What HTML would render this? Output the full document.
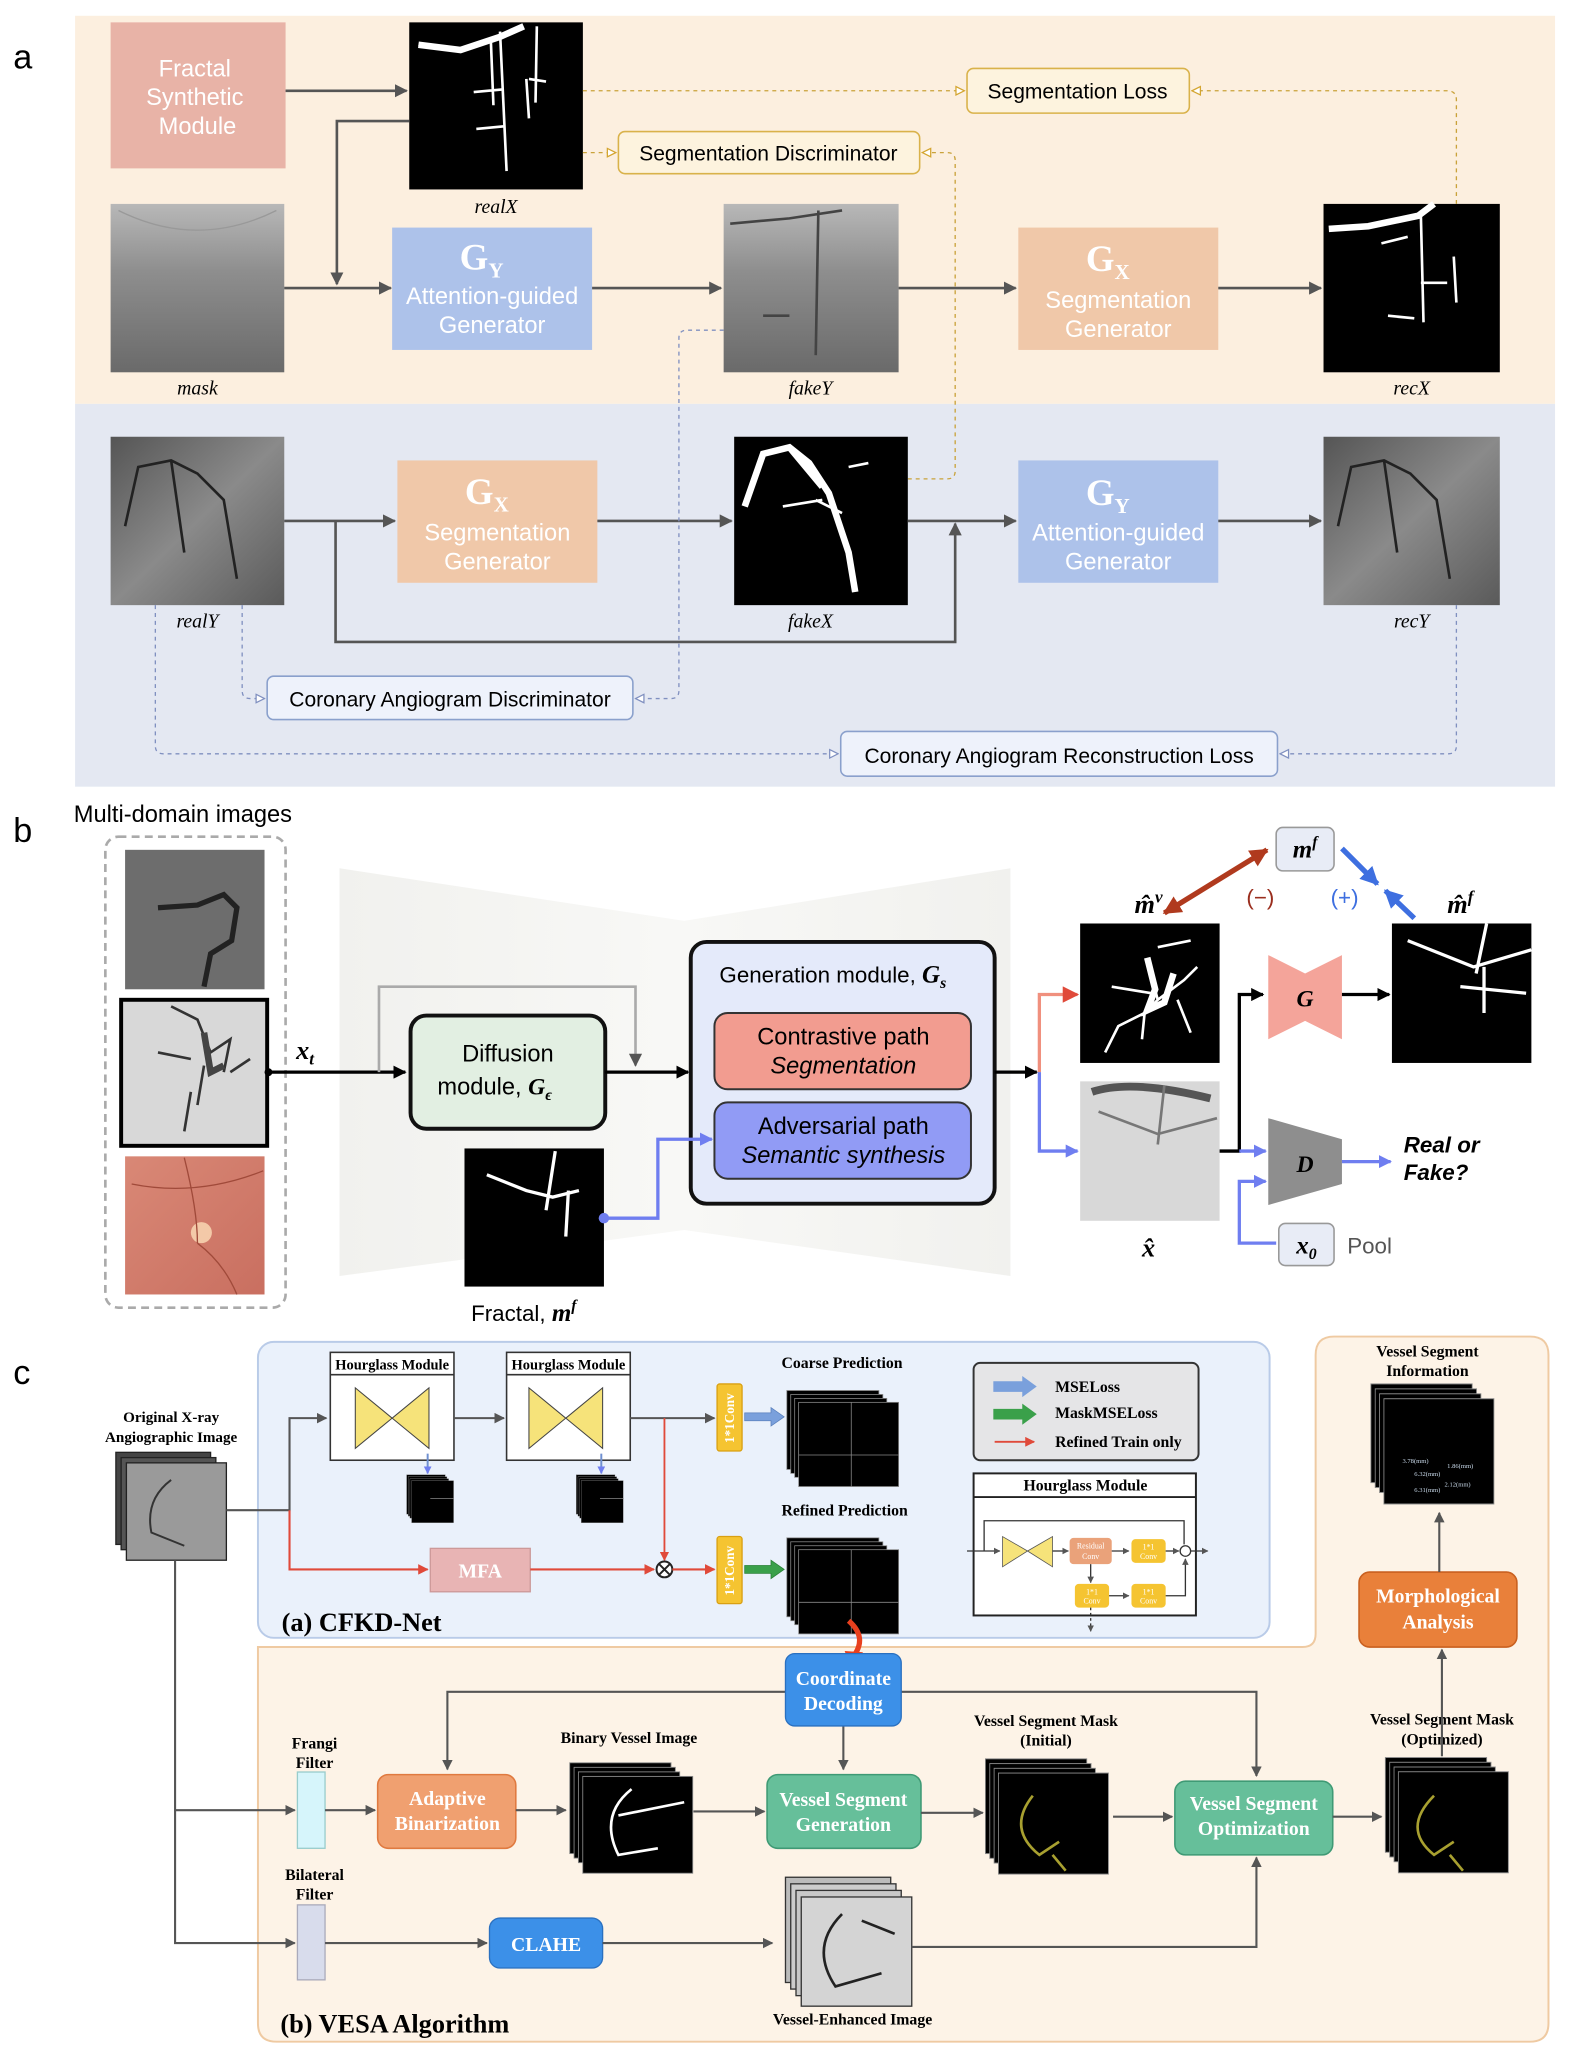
<!DOCTYPE html>
<html><head><meta charset="utf-8"><style>html,body{margin:0;padding:0;background:#fff}svg{display:block}</style></head>
<body>
<svg width="1592" height="2068" viewBox="0 0 1210 1572" xmlns="http://www.w3.org/2000/svg" font-family="Liberation Sans, sans-serif">
<defs>
<marker id="ag" viewBox="0 0 10 10" refX="9" refY="5" markerWidth="5" markerHeight="5" orient="auto"><path d="M0,0L10,5L0,10z" fill="#555"/></marker>
<marker id="ak" viewBox="0 0 10 10" refX="9" refY="5" markerWidth="4" markerHeight="4" orient="auto"><path d="M0,0L10,5L0,10z" fill="#000"/></marker>
<marker id="ar" viewBox="0 0 10 10" refX="9" refY="5" markerWidth="5" markerHeight="5" orient="auto"><path d="M0,0L10,5L0,10z" fill="#e04a3a"/></marker>
<marker id="ab" viewBox="0 0 10 10" refX="9" refY="5" markerWidth="4" markerHeight="4" orient="auto"><path d="M0,0L10,5L0,10z" fill="#6f7ef0"/></marker>
<marker id="abl" viewBox="0 0 10 10" refX="9" refY="5" markerWidth="3.5" markerHeight="3.5" orient="auto"><path d="M0,0L10,5L0,10z" fill="#3e6fe0"/></marker>
<marker id="adr" viewBox="0 0 10 10" refX="9" refY="5" markerWidth="3.5" markerHeight="3.5" orient="auto-start-reverse"><path d="M0,0L10,5L0,10z" fill="#b03a1e"/></marker>
<marker id="hy" viewBox="0 0 10 10" refX="9" refY="5" markerWidth="8" markerHeight="8" orient="auto"><path d="M1,1L9,5L1,9z" fill="#fff" stroke="#d4a530" stroke-width="1.2"/></marker>
<marker id="hb" viewBox="0 0 10 10" refX="9" refY="5" markerWidth="8" markerHeight="8" orient="auto"><path d="M1,1L9,5L1,9z" fill="#fff" stroke="#8090c0" stroke-width="1.2"/></marker>
<linearGradient id="xr" x1="0" y1="0" x2="0" y2="1"><stop offset="0" stop-color="#b8b8b8"/><stop offset=".4" stop-color="#8e8e8e"/><stop offset="1" stop-color="#6a6a6a"/></linearGradient>
<linearGradient id="xr2" x1="0" y1="0" x2="1" y2="1"><stop offset="0" stop-color="#555"/><stop offset=".5" stop-color="#8a8a8a"/><stop offset="1" stop-color="#5a5a5a"/></linearGradient>
<linearGradient id="ret" x1="0" y1="0" x2="1" y2="1"><stop offset="0" stop-color="#d98876"/><stop offset="1" stop-color="#c96f60"/></linearGradient>
<linearGradient id="bgsh" x1="0" y1="0" x2="1" y2="0"><stop offset="0" stop-color="#f1f1ee"/><stop offset=".5" stop-color="#f8f8f6"/><stop offset="1" stop-color="#f1f1ee"/></linearGradient>
<g id="stk"><rect x="0" y="0" width="70" height="60" fill="#000" stroke="#888" stroke-width=".6"/><rect x="3" y="3" width="70" height="60" fill="#000" stroke="#888" stroke-width=".6"/><rect x="6" y="6" width="70" height="60" fill="#000" stroke="#888" stroke-width=".6"/><rect x="9" y="9" width="76" height="64" fill="#000" stroke="#888" stroke-width=".6"/></g>
</defs>

<!-- ========== PANEL A ========== -->
<text x="10" y="52" font-size="26">a</text>
<rect x="57" y="12" width="1125" height="295" fill="#fcefdf"/>
<rect x="57" y="307" width="1125" height="291" fill="#e4e8f2"/>

<rect x="84" y="17" width="133" height="111" fill="#e8b3a7"/>
<text font-size="18" fill="#fff" text-anchor="middle"><tspan x="148" y="58">Fractal</tspan><tspan x="148" y="80">Synthetic</tspan><tspan x="150" y="102">Module</tspan></text>

<rect x="311" y="17" width="132" height="127" fill="#000"/>
<path d="M318,34L350,38L372,30L392,24M373,30L375,80M380,24L385,130M360,70L382,68M362,98L383,96M400,60L402,90M402,60L415,62M408,20L407,78" stroke="#fff" stroke-width="2" fill="none"/>
<path d="M318,34L350,38L380,28L398,20" stroke="#fff" stroke-width="5" fill="none"/>
<text x="377" y="162" font-family="Liberation Serif, serif" font-style="italic" font-size="15" text-anchor="middle">realX</text>

<rect x="84" y="155" width="132" height="128" fill="url(#xr)"/>
<path d="M90,160Q150,190 210,160" stroke="#999" fill="none"/>
<text x="150" y="300" font-family="Liberation Serif, serif" font-style="italic" font-size="15" text-anchor="middle">mask</text>

<line x1="217" y1="69" x2="309" y2="69" stroke="#555" stroke-width="2" marker-end="url(#ag)"/>
<polyline points="311,92 256,92 256,216" fill="none" stroke="#555" stroke-width="2" marker-end="url(#ag)"/>
<line x1="216" y1="219" x2="297" y2="219" stroke="#555" stroke-width="2" marker-end="url(#ag)"/>

<rect x="298" y="173" width="152" height="93" fill="#adc2ea"/>
<text x="366" y="205" font-family="Liberation Serif, serif" font-weight="bold" font-size="28" fill="#fff" text-anchor="middle">G<tspan font-size="16" dy="6">Y</tspan></text>
<text font-size="18" fill="#fff" text-anchor="middle"><tspan x="374" y="231">Attention-guided</tspan><tspan x="374" y="253">Generator</tspan></text>

<line x1="450" y1="219" x2="548" y2="219" stroke="#555" stroke-width="2" marker-end="url(#ag)"/>
<rect x="550" y="155" width="133" height="128" fill="url(#xr)"/>
<path d="M555,170L600,166L640,160M622,160L620,270M580,240L600,240" stroke="#444" stroke-width="2" fill="none"/>
<text x="616" y="300" font-family="Liberation Serif, serif" font-style="italic" font-size="15" text-anchor="middle">fakeY</text>
<line x1="683" y1="219" x2="772" y2="219" stroke="#555" stroke-width="2" marker-end="url(#ag)"/>

<rect x="774" y="173" width="152" height="93" fill="#f0c8a9"/>
<text x="842" y="206" font-family="Liberation Serif, serif" font-weight="bold" font-size="28" fill="#fff" text-anchor="middle">G<tspan font-size="16" dy="6">X</tspan></text>
<text font-size="18" fill="#fff" text-anchor="middle"><tspan x="850" y="234">Segmentation</tspan><tspan x="850" y="256">Generator</tspan></text>
<line x1="926" y1="219" x2="1004" y2="219" stroke="#555" stroke-width="2" marker-end="url(#ag)"/>

<rect x="1006" y="155" width="134" height="128" fill="#000"/>
<path d="M1010,174L1040,172L1078,164L1090,155" stroke="#fff" stroke-width="5" fill="none"/>
<path d="M1080,164L1082,245M1050,185L1070,180M1080,215L1100,215M1055,240L1075,242M1105,195L1107,230" stroke="#fff" stroke-width="2" fill="none"/>
<text x="1073" y="300" font-family="Liberation Serif, serif" font-style="italic" font-size="15" text-anchor="middle">recX</text>

<!-- dashed losses -->
<rect x="735" y="52" width="169" height="34" rx="5" fill="#fdf3de" stroke="#d9b24a" stroke-width="1.2"/>
<text x="819" y="75" font-size="16" text-anchor="middle">Segmentation Loss</text>
<line x1="443" y1="69" x2="733" y2="69" stroke="#c9a23a" stroke-dasharray="3,3" marker-end="url(#hy)"/>
<path d="M1107,155L1107,76Q1107,69 1100,69L906,69" fill="none" stroke="#c9a23a" stroke-dasharray="3,3" marker-end="url(#hy)"/>
<rect x="470" y="100" width="229" height="32" rx="5" fill="#fdf3de" stroke="#d9b24a" stroke-width="1.2"/>
<text x="584" y="122" font-size="16" text-anchor="middle">Segmentation Discriminator</text>
<line x1="443" y1="116" x2="468" y2="116" stroke="#c9a23a" stroke-dasharray="3,3" marker-end="url(#hy)"/>
<path d="M690,364L720,364Q726,364 726,358L726,122Q726,116 720,116L701,116" fill="none" stroke="#c9a23a" stroke-dasharray="3,3" marker-end="url(#hy)"/>

<!-- bottom row a -->
<rect x="84" y="332" width="132" height="128" fill="url(#xr2)"/>
<path d="M95,400L105,355L130,350L150,360L170,380L180,440M130,350L140,420" stroke="#222" stroke-width="2" fill="none"/>
<text x="150" y="477" font-family="Liberation Serif, serif" font-style="italic" font-size="15" text-anchor="middle">realY</text>
<line x1="216" y1="396" x2="300" y2="396" stroke="#555" stroke-width="2" marker-end="url(#ag)"/>
<rect x="302" y="350" width="152" height="93" fill="#f0c8a9"/>
<text x="370" y="383" font-family="Liberation Serif, serif" font-weight="bold" font-size="28" fill="#fff" text-anchor="middle">G<tspan font-size="16" dy="6">X</tspan></text>
<text font-size="18" fill="#fff" text-anchor="middle"><tspan x="378" y="411">Segmentation</tspan><tspan x="378" y="433">Generator</tspan></text>
<line x1="454" y1="396" x2="556" y2="396" stroke="#555" stroke-width="2" marker-end="url(#ag)"/>
<rect x="558" y="332" width="132" height="128" fill="#000"/>
<path d="M566,385L580,345L600,340L615,352L630,375L645,420L650,450M600,340L625,370" stroke="#fff" stroke-width="5" fill="none"/>
<path d="M595,385L625,380M620,380L640,390M645,355L660,352" stroke="#fff" stroke-width="2" fill="none"/>
<text x="616" y="477" font-family="Liberation Serif, serif" font-style="italic" font-size="15" text-anchor="middle">fakeX</text>
<line x1="690" y1="396" x2="772" y2="396" stroke="#555" stroke-width="2" marker-end="url(#ag)"/>
<polyline points="255,396 255,488 726,488 726,398" fill="none" stroke="#555" stroke-width="2" marker-end="url(#ag)"/>
<rect x="774" y="350" width="152" height="93" fill="#adc2ea"/>
<text x="842" y="384" font-family="Liberation Serif, serif" font-weight="bold" font-size="28" fill="#fff" text-anchor="middle">G<tspan font-size="16" dy="6">Y</tspan></text>
<text font-size="18" fill="#fff" text-anchor="middle"><tspan x="850" y="411">Attention-guided</tspan><tspan x="850" y="433">Generator</tspan></text>
<line x1="926" y1="396" x2="1004" y2="396" stroke="#555" stroke-width="2" marker-end="url(#ag)"/>
<rect x="1006" y="332" width="134" height="128" fill="url(#xr2)"/>
<path d="M1017,400L1027,355L1052,350L1072,360L1092,380L1102,440M1052,350L1062,420" stroke="#222" stroke-width="2" fill="none"/>
<text x="1073" y="477" font-family="Liberation Serif, serif" font-style="italic" font-size="15" text-anchor="middle">recY</text>

<rect x="203" y="514" width="278" height="33" rx="5" fill="#eef2fb" stroke="#8aa0cc" stroke-width="1.2"/>
<text x="342" y="537" font-size="16" text-anchor="middle">Coronary Angiogram Discriminator</text>
<path d="M184,460L184,525Q184,531 190,531L201,531" fill="none" stroke="#8090c0" stroke-dasharray="3,3" marker-end="url(#hb)"/>
<path d="M550,251L522,251Q516,251 516,257L516,525Q516,531 510,531L483,531" fill="none" stroke="#8090c0" stroke-dasharray="3,3" marker-end="url(#hb)"/>
<rect x="639" y="556" width="332" height="34" rx="5" fill="#eef2fb" stroke="#8aa0cc" stroke-width="1.2"/>
<text x="805" y="580" font-size="16" text-anchor="middle">Coronary Angiogram Reconstruction Loss</text>
<path d="M118,460L118,567Q118,573 124,573L637,573" fill="none" stroke="#8090c0" stroke-dasharray="3,3" marker-end="url(#hb)"/>
<path d="M1107,460L1107,567Q1107,573 1101,573L973,573" fill="none" stroke="#8090c0" stroke-dasharray="3,3" marker-end="url(#hb)"/>

<!-- ========== PANEL B ========== -->
<text x="10" y="640" font-size="26">b</text>
<text x="56" y="625" font-size="18">Multi-domain images</text>
<rect x="80" y="636" width="137" height="358" rx="10" fill="none" stroke="#aaa" stroke-width="2" stroke-dasharray="6,4"/>
<rect x="95" y="646" width="106" height="106" fill="#6d6d6d"/>
<path d="M120,690L150,688L170,680L180,690L176,715L160,725L155,750" stroke="#222" stroke-width="4" fill="none"/>
<rect x="92" y="760" width="111" height="111" fill="#d8d8d8" stroke="#000" stroke-width="3"/>
<path d="M130,765L150,775L160,800L175,790L170,815M155,810L150,840M120,800L145,805M175,815L190,805M145,830L140,860" stroke="#333" stroke-width="2" fill="none"/>
<path d="M155,785L160,815L170,810" stroke="#444" stroke-width="5" fill="none"/>
<rect x="95" y="879" width="106" height="105" fill="url(#ret)"/>
<circle cx="153" cy="937" r="8" fill="#f3c9a8"/>
<path d="M100,900Q150,910 200,890M150,945Q170,960 180,984M140,880Q150,920 150,945" stroke="#a04a3a" fill="none"/>

<polygon points="258,660 520,700 768,660 768,970 520,935 258,970" fill="url(#bgsh)"/>
<line x1="203" y1="815" x2="308" y2="815" stroke="#000" stroke-width="2.5" marker-end="url(#ak)"/>
<circle cx="204" cy="815" r="3" fill="#000"/>
<text x="225" y="805" font-family="Liberation Serif, serif" font-style="italic" font-weight="bold" font-size="20">x<tspan font-size="13" dy="4">t</tspan></text>
<polyline points="288,815 288,750 483,750 483,810" fill="none" stroke="#aaa" stroke-width="2" marker-end="url(#ag)"/>
<rect x="312" y="772" width="148" height="86" rx="12" fill="#e2efe2" stroke="#111" stroke-width="3"/>
<text font-size="18" text-anchor="middle"><tspan x="386" y="807">Diffusion</tspan><tspan x="376" y="832">module, </tspan><tspan font-family="Liberation Serif, serif" font-style="italic" font-weight="bold">G</tspan><tspan font-family="Liberation Serif, serif" font-style="italic" font-weight="bold" font-size="12" dy="4">ϵ</tspan></text>
<line x1="460" y1="815" x2="523" y2="815" stroke="#000" stroke-width="2.5" marker-end="url(#ak)"/>

<rect x="525" y="716" width="231" height="199" rx="12" fill="#e4eafa" stroke="#111" stroke-width="3"/>
<text x="633" y="747" font-size="17" text-anchor="middle">Generation module, <tspan font-family="Liberation Serif, serif" font-style="italic" font-weight="bold" font-size="19">G</tspan><tspan font-family="Liberation Serif, serif" font-style="italic" font-weight="bold" font-size="12" dy="4">s</tspan></text>
<rect x="543" y="770" width="195" height="58" rx="10" fill="#f29c90" stroke="#333" stroke-width="1.5"/>
<text font-size="18" text-anchor="middle"><tspan x="641" y="794">Contrastive path</tspan><tspan x="641" y="816" font-style="italic">Segmentation</tspan></text>
<rect x="543" y="838" width="195" height="58" rx="10" fill="#919bf5" stroke="#333" stroke-width="1.5"/>
<text font-size="18" text-anchor="middle"><tspan x="641" y="862">Adversarial path</tspan><tspan x="641" y="884" font-style="italic">Semantic synthesis</tspan></text>

<rect x="353" y="873" width="106" height="105" fill="#000"/>
<path d="M370,893L400,905L420,910L440,905M422,875L415,920M432,905L430,940" stroke="#fff" stroke-width="2.5" fill="none"/>
<text x="358" y="1004" font-size="17">Fractal, <tspan font-family="Liberation Serif, serif" font-style="italic" font-weight="bold" font-size="19">m</tspan><tspan font-family="Liberation Serif, serif" font-style="italic" font-weight="bold" font-size="12" dy="-8">f</tspan></text>
<circle cx="459" cy="926" r="4" fill="#6f7ef0"/>
<polyline points="459,926 500,926 500,866 541,866" fill="none" stroke="#6f7ef0" stroke-width="2.5" marker-end="url(#ab)"/>

<polyline points="756,815 788,815" fill="none" stroke="#000" stroke-width="2.5" marker-end="url(#ak)"/>
<polyline points="790,815 790,756 819,756" fill="none" stroke="#f0907e" stroke-width="2.5" marker-end="url(#ar)"/>
<polyline points="790,815 790,875 819,875" fill="none" stroke="#6f7ef0" stroke-width="2.5" marker-end="url(#ab)"/>

<rect x="821" y="702" width="106" height="106" fill="#000"/>
<path d="M872,730L880,760L870,770L868,790M880,760L900,745L910,735M870,770L850,780L840,800M880,720L905,715M845,750L875,755M895,760L905,785" stroke="#fff" stroke-width="2" fill="none"/>
<path d="M872,728L878,752L872,768L885,762L892,740" stroke="#fff" stroke-width="5" fill="none"/>
<text x="873" y="694" font-family="Liberation Serif, serif" font-style="italic" font-weight="bold" font-size="20" text-anchor="middle">m̂<tspan font-size="13" dy="-8">v</tspan></text>
<rect x="821" y="822" width="106" height="106" fill="#d8d8d8"/>
<path d="M830,830Q860,820 920,835" stroke="#555" stroke-width="6" fill="none"/>
<path d="M835,845L880,862L925,850M885,825L880,870" stroke="#777" stroke-width="2" fill="none"/>
<text x="873" y="955" font-family="Liberation Serif, serif" font-style="italic" font-weight="bold" font-size="20" text-anchor="middle">x̂</text>

<rect x="970" y="629" width="44" height="33" rx="5" fill="#e8ecf6" stroke="#999" stroke-width="1.2"/>
<text x="992" y="652" font-family="Liberation Serif, serif" font-style="italic" font-weight="bold" font-size="19" text-anchor="middle">m<tspan font-size="12" dy="-8">f</tspan></text>
<line x1="885" y1="694" x2="963" y2="646" stroke="#b03a1e" stroke-width="4" marker-start="url(#adr)" marker-end="url(#adr)"/>
<text x="958" y="688" font-size="17" fill="#9a2e1e" text-anchor="middle">(−)</text>
<line x1="1020" y1="645" x2="1047" y2="672" stroke="#3e6fe0" stroke-width="4" marker-end="url(#abl)"/>
<line x1="1075" y1="698" x2="1053" y2="677" stroke="#3e6fe0" stroke-width="4" marker-end="url(#abl)"/>
<text x="1022" y="688" font-size="17" fill="#3e6fe0" text-anchor="middle">(+)</text>
<rect x="1058" y="702" width="106" height="106" fill="#000"/>
<path d="M1070,715L1100,727L1120,735L1164,722M1130,702L1122,740M1128,735L1128,770M1110,750L1160,755" stroke="#fff" stroke-width="2.5" fill="none"/>
<text x="1110" y="694" font-family="Liberation Serif, serif" font-style="italic" font-weight="bold" font-size="20" text-anchor="middle">m̂<tspan font-size="13" dy="-8">f</tspan></text>

<polyline points="927,875 942,875 942,756 960,756" fill="none" stroke="#000" stroke-width="2.5" marker-end="url(#ak)"/>
<polygon points="964,726 992,740 1020,726 1020,790 992,776 964,790" fill="#f4a49a"/>
<text x="992" y="765" font-family="Liberation Serif, serif" font-style="italic" font-weight="bold" font-size="18" text-anchor="middle">G</text>
<line x1="1020" y1="756" x2="1056" y2="756" stroke="#000" stroke-width="2.5" marker-end="url(#ak)"/>
<line x1="942" y1="875" x2="962" y2="875" stroke="#6f7ef0" stroke-width="2.5" marker-end="url(#ab)"/>
<polygon points="964,850 1020,866 1020,900 964,916" fill="#8e8e8e"/>
<text x="992" y="891" font-family="Liberation Serif, serif" font-style="italic" font-weight="bold" font-size="18" text-anchor="middle">D</text>
<line x1="1020" y1="883" x2="1057" y2="883" stroke="#6f7ef0" stroke-width="2.5" marker-end="url(#ab)"/>
<text font-size="17" font-style="italic" font-weight="bold"><tspan x="1067" y="876">Real or</tspan><tspan x="1067" y="897">Fake?</tspan></text>
<polyline points="970,945 942,945 942,898 962,898" fill="none" stroke="#6f7ef0" stroke-width="2.5" marker-end="url(#ab)"/>
<rect x="972" y="930" width="42" height="32" rx="5" fill="#e8ecf6" stroke="#999" stroke-width="1.2"/>
<text x="993" y="953" font-family="Liberation Serif, serif" font-style="italic" font-weight="bold" font-size="19" text-anchor="middle">x<tspan font-size="12" dy="4">0</tspan></text>
<text x="1024" y="953" font-size="17" fill="#555">Pool</text>

<!-- ========== PANEL C ========== -->
<text x="10" y="1052" font-size="26">c</text>
<path d="M196,1252L990,1252Q1000,1252 1000,1242L1000,1030Q1000,1016 1014,1016L1163,1016Q1177,1016 1177,1030L1177,1538Q1177,1552 1163,1552L210,1552Q196,1552 196,1538Z" fill="#fdf3e7" stroke="#efcaa2" stroke-width="1.5"/>
<rect x="196" y="1020" width="769" height="225" rx="12" fill="#eaf1fb" stroke="#b9cbe8" stroke-width="1.5"/>

<text font-family="Liberation Serif, serif" font-weight="bold" font-size="11.5" text-anchor="middle"><tspan x="130" y="1081">Original X-ray</tspan><tspan x="130" y="1096">Angiographic Image</tspan></text>
<rect x="88" y="1104" width="72" height="70" fill="#444" stroke="#222"/>
<rect x="92" y="1108" width="72" height="70" fill="#555" stroke="#222"/>
<rect x="96" y="1112" width="76" height="74" fill="#9a9a9a" stroke="#222"/>
<path d="M130,1125Q110,1140 115,1165L140,1175" stroke="#333" fill="none" stroke-width="1.5"/>
<polyline points="172,1148 220,1148 220,1078 248,1078" fill="none" stroke="#555" stroke-width="1.6" marker-end="url(#ag)"/>
<polyline points="220,1148 220,1193 325,1193" fill="none" stroke="#e04a3a" stroke-width="1.6" marker-end="url(#ar)"/>
<polyline points="133,1186 133,1376 224,1376" fill="none" stroke="#555" stroke-width="1.6" marker-end="url(#ag)"/>
<polyline points="133,1376 133,1477 224,1477" fill="none" stroke="#555" stroke-width="1.6" marker-end="url(#ag)"/>

<!-- hourglass modules -->
<g font-family="Liberation Serif, serif" font-weight="bold" font-size="11" text-anchor="middle">
<rect x="251" y="1028" width="94" height="82" fill="#fff" stroke="#333" stroke-width="1.2"/>
<line x1="251" y1="1045" x2="345" y2="1045" stroke="#333" stroke-width="1.2"/>
<text x="298" y="1041">Hourglass Module</text>
<polygon points="270,1055 298,1078 326,1055 326,1101 298,1078 270,1101" fill="#f6e37a" stroke="#444" stroke-width=".8"/>
<rect x="385" y="1028" width="94" height="82" fill="#fff" stroke="#333" stroke-width="1.2"/>
<line x1="385" y1="1045" x2="479" y2="1045" stroke="#333" stroke-width="1.2"/>
<text x="432" y="1041">Hourglass Module</text>
<polygon points="402,1055 430,1078 458,1055 458,1101 430,1078 402,1101" fill="#f6e37a" stroke="#444" stroke-width=".8"/>
</g>
<line x1="345" y1="1078" x2="383" y2="1078" stroke="#555" stroke-width="1.6" marker-end="url(#ag)"/>
<line x1="479" y1="1078" x2="543" y2="1078" stroke="#555" stroke-width="1.6" marker-end="url(#ag)"/>
<line x1="325" y1="1105" x2="325" y2="1120" stroke="#6f90d0" stroke-width="1.5" marker-end="url(#ab)"/>
<line x1="457" y1="1105" x2="457" y2="1120" stroke="#6f90d0" stroke-width="1.5" marker-end="url(#ab)"/>
<g transform="translate(309,1121) scale(.42,.5)"><use href="#stk"/></g>
<g transform="translate(438,1121) scale(.42,.5)"><use href="#stk"/></g>
<line x1="327" y1="1139" x2="345" y2="1139" stroke="#888" stroke-width=".6"/><line x1="456" y1="1139" x2="474" y2="1139" stroke="#888" stroke-width=".6"/>

<polyline points="505,1078 505,1186" fill="none" stroke="#e04a3a" stroke-width="1.4" marker-end="url(#ar)"/>
<rect x="327" y="1177" width="76" height="33" fill="#e8b4b4" stroke="#c99"/>
<text x="365" y="1199" font-family="Liberation Serif, serif" font-weight="bold" font-size="15" fill="#fff" text-anchor="middle">MFA</text>
<line x1="403" y1="1193" x2="497" y2="1193" stroke="#e04a3a" stroke-width="1.6" marker-end="url(#ar)"/>
<circle cx="505" cy="1193" r="6" fill="#fff" stroke="#222" stroke-width="1.5"/>
<path d="M501,1189L509,1197M509,1189L501,1197" stroke="#222" stroke-width="1.5"/>
<line x1="511" y1="1193" x2="543" y2="1193" stroke="#e04a3a" stroke-width="1.6" marker-end="url(#ar)"/>
<rect x="545" y="1052" width="19" height="51" rx="2" fill="#f5c431" stroke="#d9a012"/>
<text transform="translate(558,1078) rotate(-90)" font-family="Liberation Serif, serif" font-weight="bold" font-size="10" fill="#fff" text-anchor="middle">1*1Conv</text>
<rect x="545" y="1168" width="19" height="51" rx="2" fill="#f5c431" stroke="#d9a012"/>
<text transform="translate(558,1194) rotate(-90)" font-family="Liberation Serif, serif" font-weight="bold" font-size="10" fill="#fff" text-anchor="middle">1*1Conv</text>
<polygon points="566,1074 586,1074 586,1070 596,1077 586,1084 586,1080 566,1080" fill="#7aa0dc" stroke="#5a80bc" stroke-width=".6"/>
<polygon points="566,1190 586,1190 586,1186 596,1193 586,1200 586,1196 566,1196" fill="#3aa04a" stroke="#2a8036" stroke-width=".6"/>
<text x="640" y="1040" font-family="Liberation Serif, serif" font-weight="bold" font-size="12" text-anchor="middle">Coarse Prediction</text>
<g transform="translate(598,1057)"><use href="#stk"/></g>
<line x1="607" y1="1106" x2="683" y2="1106" stroke="#888" stroke-width=".6"/><line x1="647" y1="1066" x2="647" y2="1130" stroke="#888" stroke-width=".6"/>
<text x="642" y="1152" font-family="Liberation Serif, serif" font-weight="bold" font-size="12" text-anchor="middle">Refined Prediction</text>
<g transform="translate(598,1169)"><use href="#stk"/></g>
<line x1="607" y1="1218" x2="683" y2="1218" stroke="#888" stroke-width=".6"/><line x1="647" y1="1178" x2="647" y2="1242" stroke="#888" stroke-width=".6"/>

<!-- legend -->
<rect x="740" y="1036" width="171" height="74" rx="5" fill="#e5e5e7" stroke="#333" stroke-width="1.5"/>
<polygon points="755,1050 777,1050 777,1046 788,1054 777,1062 777,1058 755,1058" fill="#7aa0dc"/>
<polygon points="755,1071 777,1071 777,1067 788,1075 777,1083 777,1079 755,1079" fill="#3aa04a"/>
<line x1="756" y1="1096" x2="786" y2="1096" stroke="#e04a3a" stroke-width="1.5" marker-end="url(#ar)"/>
<g font-family="Liberation Serif, serif" font-weight="bold" font-size="12"><text x="802" y="1058">MSELoss</text><text x="802" y="1078">MaskMSELoss</text><text x="802" y="1100">Refined Train only</text></g>
<rect x="740" y="1120" width="169" height="108" fill="#fff" stroke="#222" stroke-width="1.5"/>
<line x1="740" y1="1138" x2="909" y2="1138" stroke="#222" stroke-width="1.5"/>
<text x="825" y="1133" font-family="Liberation Serif, serif" font-weight="bold" font-size="12" text-anchor="middle">Hourglass Module</text>
<polyline points="735,1179 760,1179" stroke="#333" fill="none" marker-end="url(#ag)"/>
<polyline points="748,1179 748,1156 900,1156 900,1174" stroke="#333" fill="none"/>
<polygon points="762,1168 781,1179 800,1168 800,1191 781,1179 762,1191" fill="#f6e37a" stroke="#555" stroke-width=".6"/>
<line x1="800" y1="1179" x2="812" y2="1179" stroke="#333" marker-end="url(#ag)"/>
<rect x="813" y="1169" width="32" height="20" rx="3" fill="#eaa27a"/>
<line x1="845" y1="1179" x2="858" y2="1179" stroke="#333" marker-end="url(#ag)"/>
<rect x="860" y="1170" width="26" height="18" rx="3" fill="#f5c431"/>
<line x1="886" y1="1179" x2="896" y2="1179" stroke="#333" marker-end="url(#ag)"/>
<circle cx="901" cy="1179" r="4" fill="#fff" stroke="#333"/>
<line x1="905" y1="1179" x2="918" y2="1179" stroke="#333" marker-end="url(#ag)"/>
<line x1="829" y1="1189" x2="829" y2="1203" stroke="#333" marker-end="url(#ag)"/>
<rect x="817" y="1204" width="26" height="18" rx="3" fill="#f5c431"/>
<line x1="843" y1="1213" x2="858" y2="1213" stroke="#333" marker-end="url(#ag)"/>
<rect x="860" y="1204" width="26" height="18" rx="3" fill="#f5c431"/>
<polyline points="886,1213 901,1213 901,1185" stroke="#333" fill="none" marker-end="url(#ag)"/>
<line x1="829" y1="1222" x2="829" y2="1240" stroke="#333" stroke-dasharray="2,2" marker-end="url(#ag)"/>
<g font-family="Liberation Serif, serif" font-size="6" fill="#fff" text-anchor="middle"><text x="829" y="1177">Residual</text><text x="829" y="1185">Conv</text><text x="873" y="1178">1*1</text><text x="873" y="1185">Conv</text><text x="830" y="1212">1*1</text><text x="830" y="1219">Conv</text><text x="873" y="1212">1*1</text><text x="873" y="1219">Conv</text></g>
<text x="214" y="1240" font-family="Liberation Serif, serif" font-weight="bold" font-size="20">(a) CFKD-Net</text>

<!-- VESA -->
<path d="M645,1232Q660,1245 648,1260" stroke="#e8401e" stroke-width="4" fill="none"/>
<polygon points="642,1255 656,1256 646,1266" fill="#e8401e"/>
<polyline points="597,1286 340,1286 340,1345" fill="none" stroke="#555" stroke-width="1.6" marker-end="url(#ag)"/>
<polyline points="685,1286 955,1286 955,1350" fill="none" stroke="#555" stroke-width="1.6" marker-end="url(#ag)"/>
<line x1="641" y1="1312" x2="641" y2="1345" stroke="#555" stroke-width="1.6" marker-end="url(#ag)"/>
<rect x="597" y="1257" width="88" height="55" rx="7" fill="#3c90e8" stroke="#2a70c0"/>
<text font-family="Liberation Serif, serif" font-weight="bold" font-size="15" fill="#fff" text-anchor="middle"><tspan x="641" y="1281">Coordinate</tspan><tspan x="641" y="1300">Decoding</tspan></text>

<g font-family="Liberation Serif, serif" font-weight="bold" font-size="12" text-anchor="middle">
<text x="239" y="1329">Frangi</text><text x="239" y="1344">Filter</text>
<text x="239" y="1429">Bilateral</text><text x="239" y="1444">Filter</text>
<text x="478" y="1325">Binary Vessel Image</text>
<text x="795" y="1312">Vessel Segment Mask</text><text x="795" y="1327">(Initial)</text>
<text x="1096" y="1311">Vessel Segment Mask</text><text x="1096" y="1326">(Optimized)</text>
<text x="1085" y="1031">Vessel Segment</text><text x="1085" y="1046">Information</text>
<text x="648" y="1539">Vessel-Enhanced Image</text>
</g>
<rect x="226" y="1347" width="21" height="58" fill="#d6f5fb" stroke="#9cc"/>
<rect x="226" y="1448" width="21" height="57" fill="#d8dcec" stroke="#aab"/>
<line x1="247" y1="1376" x2="285" y2="1376" stroke="#555" stroke-width="1.6" marker-end="url(#ag)"/>
<rect x="287" y="1349" width="105" height="56" rx="8" fill="#f0a070" stroke="#e07a40" stroke-width="1.2"/>
<text font-family="Liberation Serif, serif" font-weight="bold" font-size="15" fill="#fff" text-anchor="middle"><tspan x="340" y="1372">Adaptive</tspan><tspan x="340" y="1391">Binarization</tspan></text>
<line x1="392" y1="1376" x2="430" y2="1376" stroke="#555" stroke-width="1.6" marker-end="url(#ag)"/>
<g transform="translate(433,1340) scale(1.1,1.15)"><use href="#stk"/></g>
<path d="M480,1360Q455,1380 470,1410L500,1405M470,1380L520,1370" stroke="#fff" stroke-width="2" fill="none"/>
<line x1="527" y1="1377" x2="581" y2="1377" stroke="#555" stroke-width="1.6" marker-end="url(#ag)"/>
<rect x="583" y="1349" width="117" height="56" rx="8" fill="#66bf9a" stroke="#3f9a75" stroke-width="1.2"/>
<text font-family="Liberation Serif, serif" font-weight="bold" font-size="15" fill="#fff" text-anchor="middle"><tspan x="641" y="1373">Vessel Segment</tspan><tspan x="641" y="1392">Generation</tspan></text>
<line x1="700" y1="1378" x2="747" y2="1378" stroke="#555" stroke-width="1.6" marker-end="url(#ag)"/>
<g transform="translate(749,1337) scale(1.1,1.2)"><use href="#stk"/></g>
<path d="M785,1365Q765,1390 790,1410L805,1400M800,1410L810,1422" stroke="#a8a030" stroke-width="2" fill="none"/>
<line x1="846" y1="1381" x2="891" y2="1381" stroke="#555" stroke-width="1.6" marker-end="url(#ag)"/>
<rect x="893" y="1354" width="120" height="56" rx="8" fill="#66bf9a" stroke="#3f9a75" stroke-width="1.2"/>
<text font-family="Liberation Serif, serif" font-weight="bold" font-size="15" fill="#fff" text-anchor="middle"><tspan x="953" y="1376">Vessel Segment</tspan><tspan x="953" y="1395">Optimization</tspan></text>
<line x1="1013" y1="1381" x2="1050" y2="1381" stroke="#555" stroke-width="1.6" marker-end="url(#ag)"/>
<g transform="translate(1053,1336) scale(1.1,1.2)"><use href="#stk"/></g>
<path d="M1090,1365Q1065,1390 1090,1410L1105,1400M1102,1410L1112,1422" stroke="#a8a030" stroke-width="2" fill="none"/>
<line x1="1096" y1="1335" x2="1096" y2="1254" stroke="#555" stroke-width="1.6" marker-end="url(#ag)"/>
<rect x="1033" y="1195" width="120" height="57" rx="8" fill="#e9803a" stroke="#c96020" stroke-width="1.2"/>
<text font-family="Liberation Serif, serif" font-weight="bold" font-size="15" fill="#fff" text-anchor="middle"><tspan x="1093" y="1218">Morphological</tspan><tspan x="1093" y="1238">Analysis</tspan></text>
<line x1="1094" y1="1195" x2="1094" y2="1150" stroke="#555" stroke-width="1.6" marker-end="url(#ag)"/>
<g transform="translate(1042,1052) scale(1.1,1.25)"><use href="#stk"/></g>
<g font-family="Liberation Serif, serif" font-size="5" fill="#cde"><text x="1066" y="1112">3.78(mm)</text><text x="1100" y="1116">1.86(mm)</text><text x="1075" y="1122">6.32(mm)</text><text x="1098" y="1130">2.12(mm)</text><text x="1075" y="1134">6.31(mm)</text></g>

<line x1="247" y1="1477" x2="370" y2="1477" stroke="#555" stroke-width="1.6" marker-end="url(#ag)"/>
<rect x="372" y="1458" width="86" height="38" rx="8" fill="#3c90e8" stroke="#2a70c0"/>
<text x="415" y="1483" font-family="Liberation Serif, serif" font-weight="bold" font-size="15" fill="#fff" text-anchor="middle">CLAHE</text>
<line x1="458" y1="1477" x2="587" y2="1477" stroke="#555" stroke-width="1.6" marker-end="url(#ag)"/>
<rect x="597" y="1427" width="80" height="80" fill="#bbb" stroke="#333"/>
<rect x="601" y="1432" width="80" height="80" fill="#ccc" stroke="#333"/>
<rect x="605" y="1437" width="80" height="80" fill="#c8c8c8" stroke="#333"/>
<rect x="609" y="1442" width="84" height="83" fill="#d4d4d4" stroke="#333"/>
<path d="M640,1455Q615,1480 635,1510L670,1500M655,1460L680,1470" stroke="#222" stroke-width="2" fill="none"/>
<polyline points="693,1480 955,1480 955,1412" fill="none" stroke="#555" stroke-width="1.6" marker-end="url(#ag)"/>
<text x="213" y="1545" font-family="Liberation Serif, serif" font-weight="bold" font-size="20">(b) VESA Algorithm</text>
</svg>
</body></html>
